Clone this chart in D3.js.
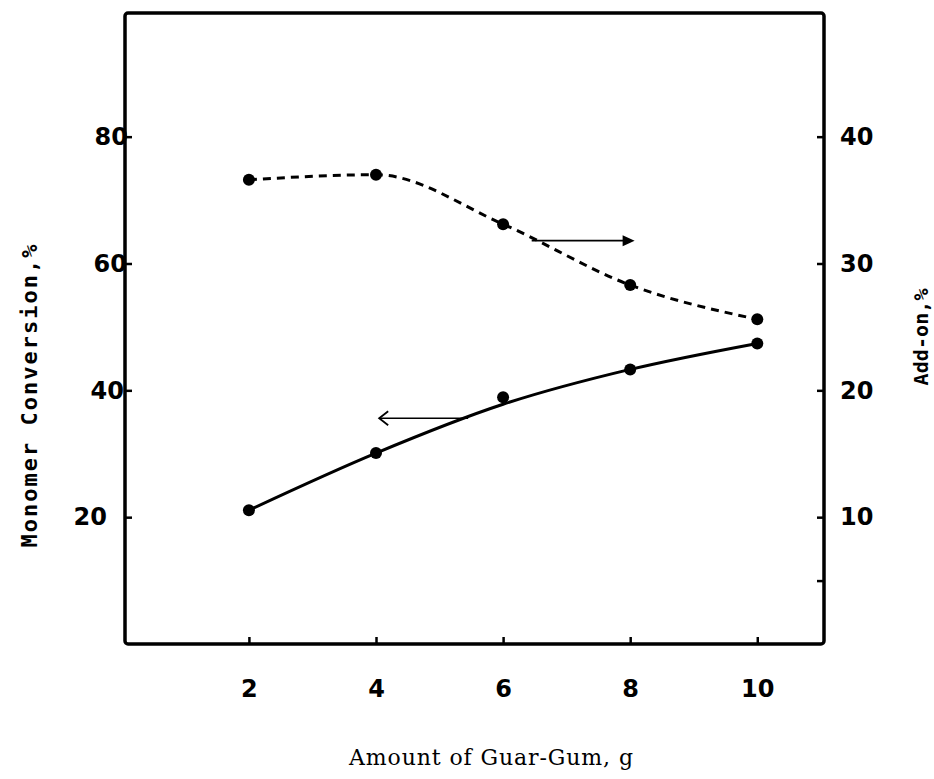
<!DOCTYPE html>
<html lang="en">
<head>
<meta charset="UTF-8">
<title>Monomer Conversion and Add-on vs Amount of Guar-Gum</title>
<script src="https://d3js.org/d3.v7.min.js"></script>
<style>
    body { margin: 0; background: #fff; }
    .tick text { font-family: "DejaVu Sans", sans-serif; font-weight: bold; font-size: 24px; fill: #000; }
    .tick line { stroke: #000; stroke-width: 2.5; }
</style>
</head>
<body>
<svg id="chart" width="934" height="779"></svg>
<script>
// data
const amount = [2, 4, 6, 8, 10];
const conversion = [21.1, 30.1, 38.9, 43.3, 47.4];      // points, left axis
const conversionFit = [21.1, 30.1, 37.8, 43.3, 47.4];   // drawn curve (passes under the 6 g point)
const addOn = [36.6, 37.0, 33.1, 28.3, 25.6];           // points, right axis
const xTicks = [2, 4, 6, 8, 10];
const leftTicks = [20, 40, 60, 80];
const rightTicks = [5, 10, 20, 30, 40];

const svg = d3.select("#chart");
const plotL = 125, plotR = 824, plotT = 13, plotB = 644;

const x = d3.scaleLinear().domain([0.05, 11.05]).range([plotL, plotR]);
const yL = d3.scaleLinear().domain([0, 99.5]).range([plotB, plotT]);
const yR = d3.scaleLinear().domain([0, 49.75]).range([plotB, plotT]);

// axes (ticks point inward, frame drawn separately)
const xAxis = svg.append("g")
    .attr("transform", `translate(0,${plotB})`)
    .call(d3.axisBottom(x).tickValues(xTicks).tickSize(-7).tickPadding(36));
xAxis.select(".domain").remove();

const leftNudge = {20: -18, 40: -1, 60: 2, 80: 3};
const yAxisL = svg.append("g")
    .attr("transform", `translate(${plotL},0)`)
    .call(d3.axisLeft(yL).tickValues(leftTicks).tickSize(-7).tickPadding(0));
yAxisL.select(".domain").remove();
yAxisL.selectAll(".tick text").attr("dx", d => leftNudge[d]);

const yAxisR = svg.append("g")
    .attr("transform", `translate(${plotR},0)`)
    .call(d3.axisRight(yR).tickValues(rightTicks).tickSize(-7).tickPadding(16)
        .tickFormat(d => d === 5 ? "" : d));
yAxisR.select(".domain").remove();

// frame
svg.append("rect")
    .attr("x", plotL).attr("y", plotT)
    .attr("width", plotR - plotL).attr("height", plotB - plotT)
    .attr("rx", 3)
    .attr("fill", "none").attr("stroke", "#000").attr("stroke-width", 3.5);

// curves
const solidLine = d3.line()
    .x((d, i) => x(amount[i]))
    .y(d => yL(d))
    .curve(d3.curveMonotoneX);
svg.append("path")
    .datum(conversionFit)
    .attr("d", solidLine)
    .attr("fill", "none").attr("stroke", "#000").attr("stroke-width", 3);

const dashLine = d3.line()
    .x((d, i) => x(amount[i]))
    .y(d => yR(d))
    .curve(d3.curveMonotoneX);
svg.append("path")
    .datum(addOn)
    .attr("d", dashLine)
    .attr("fill", "none").attr("stroke", "#000").attr("stroke-width", 3)
    .attr("stroke-dasharray", "8,6");

// points
svg.selectAll(".pt-conv")
    .data(conversion)
    .enter().append("circle")
    .attr("class", "pt-conv")
    .attr("cx", (d, i) => x(amount[i]))
    .attr("cy", d => yL(d))
    .attr("r", 6)
    .attr("fill", "#000");

svg.selectAll(".pt-add")
    .data(addOn)
    .enter().append("circle")
    .attr("class", "pt-add")
    .attr("cx", (d, i) => x(amount[i]))
    .attr("cy", d => yR(d))
    .attr("r", 6)
    .attr("fill", "#000");

// arrows pointing to the axis each curve belongs to
const leftArrow = {from: 5.45, to: 4.05, value: 35.6};
const rightArrow = {from: 6.45, to: 8.07, value: 31.8};

const la = yL(leftArrow.value);
svg.append("line")
    .attr("x1", x(leftArrow.from)).attr("x2", x(leftArrow.to))
    .attr("y1", la).attr("y2", la)
    .attr("stroke", "#000").attr("stroke-width", 1.6);
svg.append("path")
    .attr("d", `M${x(leftArrow.to) + 9},${la - 7} L${x(leftArrow.to)},${la} L${x(leftArrow.to) + 9},${la + 7}`)
    .attr("fill", "none").attr("stroke", "#000").attr("stroke-width", 1.8);

const ra = yR(rightArrow.value);
svg.append("line")
    .attr("x1", x(rightArrow.from)).attr("x2", x(rightArrow.to) - 8)
    .attr("y1", ra).attr("y2", ra)
    .attr("stroke", "#000").attr("stroke-width", 1.8);
svg.append("path")
    .attr("d", `M${x(rightArrow.to)},${ra} L${x(rightArrow.to) - 12},${ra - 5.5} L${x(rightArrow.to) - 12},${ra + 5.5} Z`)
    .attr("fill", "#000");

// axis titles
svg.append("text")
    .attr("transform", "translate(37,396) rotate(-90)")
    .attr("text-anchor", "middle")
    .attr("textLength", 303).attr("lengthAdjust", "spacing")
    .style("font-family", "'DejaVu Sans Mono', monospace")
    .style("font-weight", "bold")
    .style("font-size", "22px")
    .text("Monomer Conversion,%");

svg.append("text")
    .attr("transform", "translate(928,337) rotate(-90)")
    .attr("text-anchor", "middle")
    .attr("textLength", 97).attr("lengthAdjust", "spacing")
    .style("font-family", "'DejaVu Sans Mono', monospace")
    .style("font-weight", "bold")
    .style("font-size", "20px")
    .text("Add-on,%");

svg.append("text")
    .attr("x", 491).attr("y", 765)
    .attr("text-anchor", "middle")
    .attr("textLength", 284).attr("lengthAdjust", "spacing")
    .style("font-family", "'DejaVu Serif', serif")
    .style("font-size", "22px")
    .text("Amount of Guar-Gum, g");
</script>
</body>
</html>
